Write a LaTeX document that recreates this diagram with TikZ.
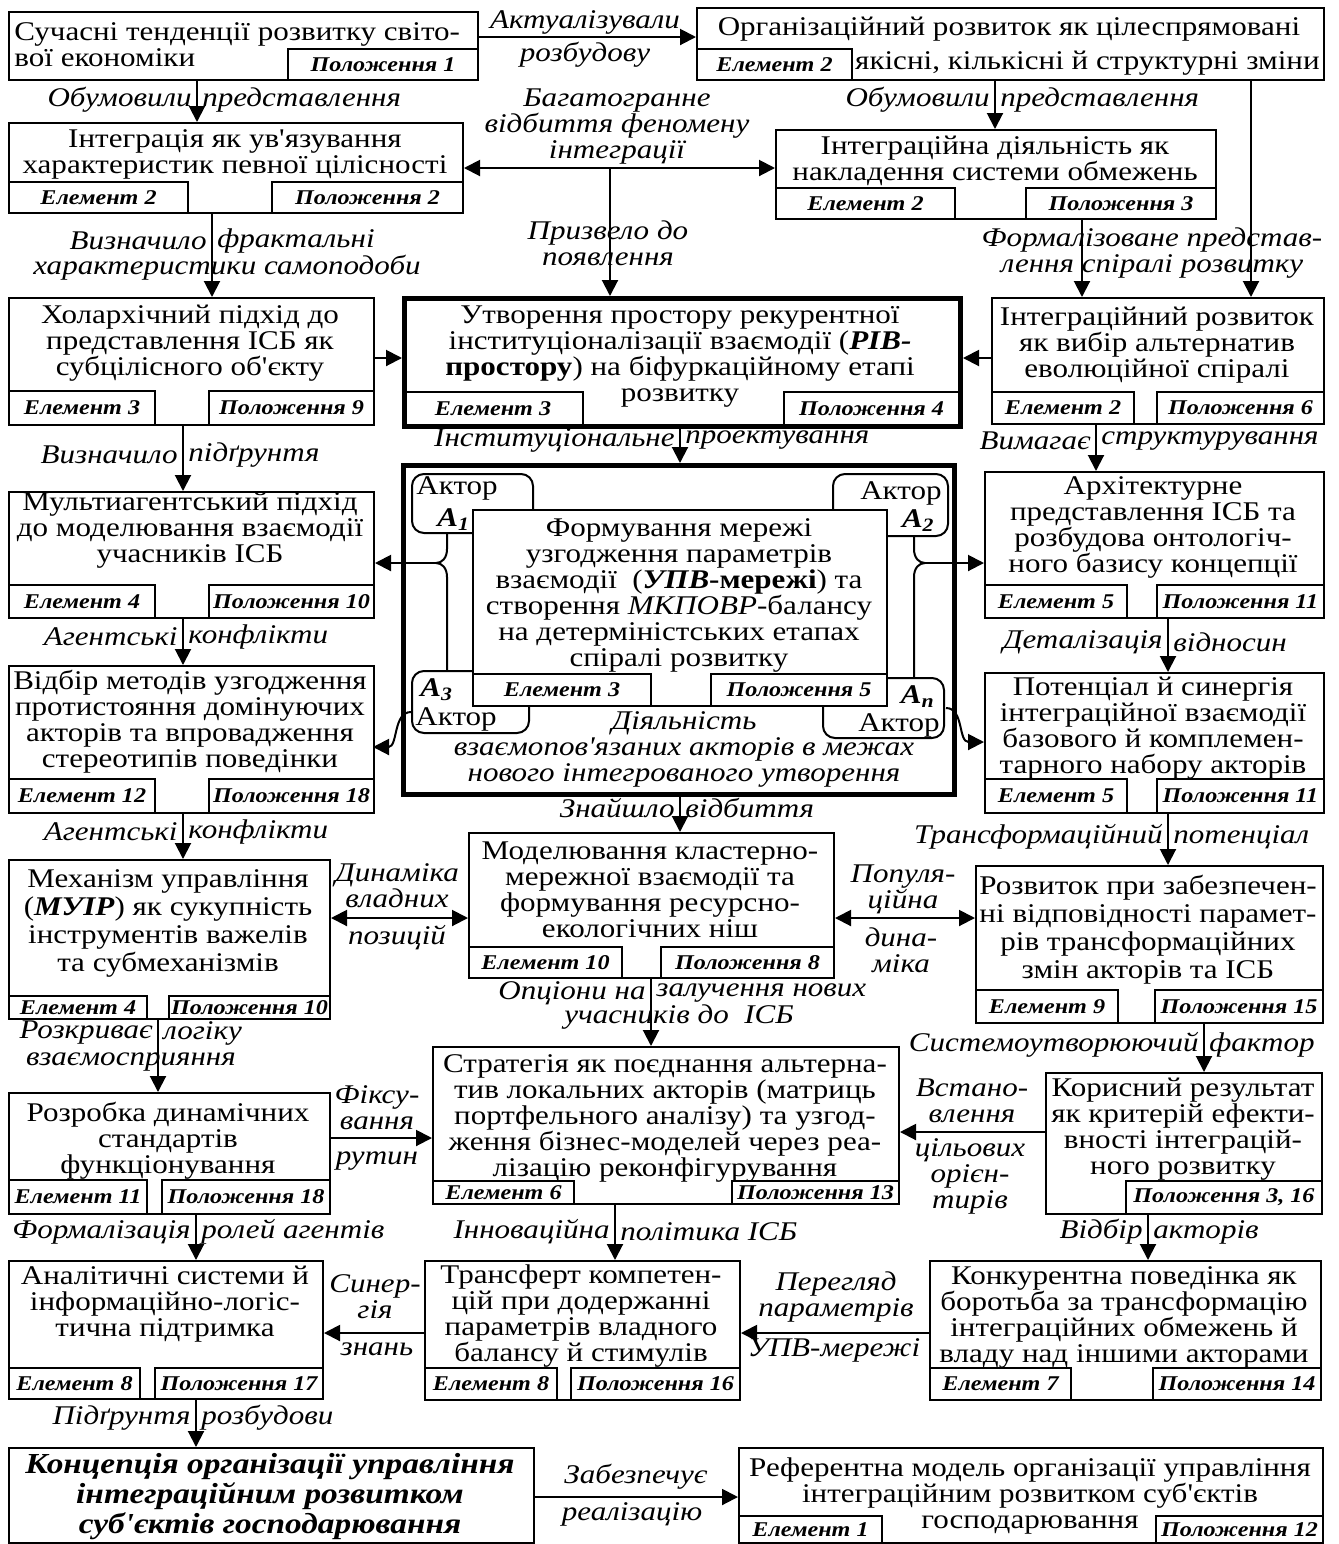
\documentclass[tikz,border=0pt]{standalone}
\usepackage{fontspec}
\setmainfont{Liberation Serif}[FakeStretch=1.15,Ligatures=TeXOff]
\usetikzlibrary{arrows.meta,calc}
\newcommand\mt{\fontsize{13.5}{13}\selectfont}
\newcommand\lt{\fontsize{10.5}{11}\selectfont\bfseries\itshape}
\newcommand\et{\fontsize{13.5}{13}\selectfont\itshape}
\newcommand\bx[6][box]{\pgfmathsetmacro\bw{(#5-#3)*0.5}\pgfmathsetmacro\bh{(#6-#4)*0.5}\node[#1,minimum width=\bw pt,minimum height=\bh pt] (#2) at (#3,#4) {};}
\newcommand\lb[6]{\pgfmathsetmacro\bw{(#4-#2)*0.5}\pgfmathsetmacro\bh{(#5-#3)*0.5}\node[lbl,minimum width=\bw pt,minimum height=\bh pt] (#1) at (#2,#3) {#6};}
\newcommand\spl[5]{\node[elab,anchor=east] (#1l) at ({#2-5},#3) {#4};\node[elab,anchor=west] (#1r) at ({#2+5},#3) {#5};}
\newcommand\bi[1]{\textbf{\textit{#1}}}
\begin{document}
\begin{tikzpicture}[x=0.5pt,y=-0.5pt,
 box/.style={draw,line width=1pt,fill=white,inner sep=0pt,anchor=north west},
 tbox/.style={box,line width=2.5pt},
 lbl/.style={draw,line width=1pt,inner sep=0pt,anchor=north west,font=\lt},
 txt/.style={inner sep=0pt,align=center,font=\mt},
 elab/.style={inner sep=0pt,align=center,font=\et},
 actor/.style={draw,line width=1pt,rounded corners=6pt,fill=white,inner sep=0pt,anchor=north west},
 ln/.style={line width=1pt},
 arr/.style={line width=1pt,-{Triangle[length=8pt,width=8pt]}},
 darr/.style={line width=1pt,{Triangle[length=8pt,width=8pt]}-{Triangle[length=8pt,width=8pt]}}]
\useasboundingbox (0,0) rectangle (1339,1544);
% ---------- row 1
\bx{b1}{8}{11}{477}{79}
\lb{b1p}{287}{48}{477}{79}{Положення 1}
\node[txt,align=left,anchor=west] (b1t) at (14,45) {Сучасні тенденції розвитку світо-\\вої економіки};
\bx{b2}{696}{7}{1323}{79}
\lb{b2e}{696}{48}{851}{79}{Елемент 2}
\node[txt] (b2t) at (1009,29) {Організаційний розвиток як цілеспрямовані};
\node[txt,anchor=east] (b2u) at (1320,63) {якісні, кількісні й структурні зміни};
% ---------- row 2
\bx{b3}{8}{122}{462}{212}
\lb{b3e}{8}{181}{187}{212}{Елемент 2}
\lb{b3p}{271}{181}{462}{212}{Положення 2}
\node[txt] (b3t) at (235,154) {Інтеграція як ув'язування\\характеристик певної цілісності};
\bx{b4}{775}{129}{1215}{218}
\lb{b4e}{775}{187}{954}{218}{Елемент 2}
\lb{b4p}{1025}{187}{1215}{218}{Положення 3}
\node[txt] (b4t) at (995,161) {Інтеграційна діяльність як\\накладення системи обмежень};
% ---------- row 3
\bx{b5}{8}{297}{373}{424}
\lb{b5e}{8}{390}{154}{424}{Елемент 3}
\lb{b5p}{208}{390}{373}{424}{Положення 9}
\node[txt] (b5t) at (190,343) {Холархічний підхід до\\представлення ІСБ як\\субцілісного об'єкту};
\bx[tbox]{b6}{402}{296}{958}{424}
\lb{b6e}{402}{391}{582}{424}{Елемент 3}
\lb{b6p}{783}{391}{958}{424}{Положення 4}
\node[txt] (b6t) at (680,357) {Утворення простору рекурентної\\інституціоналізації взаємодії (\bi{РІВ-}\\\textbf{простору}) на біфуркаційному етапі\\розвитку};
\bx{b7}{991}{297}{1323}{423}
\lb{b7e}{991}{391}{1133}{423}{Елемент 2}
\lb{b7p}{1156}{391}{1323}{423}{Положення 6}
\node[txt] (b7t) at (1157,345) {Інтеграційний розвиток\\як вибір альтернатив\\еволюційної спіралі};
% ---------- row 4
\bx{b8}{8}{491}{373}{617}
\lb{b8e}{8}{584}{154}{617}{Елемент 4}
\lb{b8p}{208}{584}{373}{617}{Положення 10}
\node[txt] (b8t) at (190,530) {Мультиагентський підхід\\до моделювання взаємодії\\учасників ІСБ};
\bx[tbox]{b10}{401}{463}{952}{792}
\bx[actor]{a1}{411}{473}{532}{532}
\bx[actor]{a2}{832}{473}{947}{535}
\bx[actor]{a3}{411}{670}{528}{732}
\bx[actor]{an}{822}{677}{943}{737}
\node[txt,align=left,anchor=north west] (a1t) at (416,476) {Актор\\[3pt]\hspace*{10.5pt}\bi{A\textsubscript{1}}};
\node[txt,align=right,anchor=north east] (a2t) at (942,481) {Актор\\[1pt]\bi{A\textsubscript{2}}\hspace*{3.5pt}};
\node[txt,anchor=west] (a3n) at (420,690) {\bi{A\textsubscript{3}}};
\node[txt,anchor=west] (a3t) at (415,719) {Актор};
\node[txt,align=right,anchor=north east] (ant) at (940,685) {\bi{A\textsubscript{n}}\hspace*{2.5pt}\\[1pt]Актор};
\coordinate (xbl) at (447,0);
\coordinate (xbr) at (914,0);
\coordinate (tl) at (436,563);
\coordinate (tr) at (925,563);
\draw[ln] (a1.south -| xbl) -- (447,549) .. controls (447,558) and (442,563) .. (tl) .. controls (442,563) and (447,568) .. (447,577) -- (a3.north -| xbl);
\draw[ln] (a2.south -| xbr) -- (914,549) .. controls (914,558) and (919,563) .. (tr) .. controls (919,563) and (914,568) .. (914,577) -- (an.north -| xbr);
\bx{b10i}{472}{509}{886}{705}
\lb{b10e}{472}{673}{650}{705}{Елемент 3}
\lb{b10p}{710}{673}{886}{705}{Положення 5}
\node[txt] (b10t) at (679,595) {Формування мережі\\узгодження параметрів\\взаємодії~~(\bi{УПВ}\textbf{-мережі}) та\\створення \textit{МКПОВР}-балансу\\на детерміністських етапах\\спіралі розвитку};
\node[elab] (b10a) at (684,749) {Діяльність\\взаємопов'язаних акторів в межах\\нового інтегрованого утворення};
\bx{b9}{984}{471}{1323}{617}
\lb{b9e}{984}{584}{1126}{617}{Елемент 5}
\lb{b9p}{1156}{584}{1323}{617}{Положення 11}
\node[txt] (b9t) at (1153,527) {Архітектурне\\представлення ІСБ та\\розбудова онтологіч-\\ного базису концепції};
\bx{b11}{8}{665}{373}{812}
\lb{b11e}{8}{778}{154}{812}{Елемент 12}
\lb{b11p}{208}{778}{373}{812}{Положення 18}
\node[txt] (b11t) at (190,722) {Відбір методів узгодження\\протистояння домінуючих\\акторів та впровадження\\стереотипів поведінки};
\bx{b13}{984}{672}{1323}{812}
\lb{b13e}{984}{778}{1126}{812}{Елемент 5}
\lb{b13p}{1156}{778}{1323}{812}{Положення 11}
\node[txt] (b13t) at (1153,728) {Потенціал й синергія\\інтеграційної взаємодії\\базового й комплемен-\\тарного набору акторів};
% ---------- row 5
\bx{b12}{8}{859}{329}{1018}
\lb{b12e}{8}{995}{146}{1018}{Елемент 4}
\lb{b12p}{168}{995}{329}{1018}{Положення 10}
\node[txt,font=\fontsize{13.5}{14}\selectfont] (b12t) at (168,923) {Механізм управління\\(\bi{МУІР}) як сукупність\\інструментів важелів\\та субмеханізмів};
\bx{b14}{468}{832}{833}{977}
\lb{b14e}{468}{946}{621}{977}{Елемент 10}
\lb{b14p}{660}{946}{833}{977}{Положення 8}
\node[txt] (b14t) at (650,890) {Моделювання кластерно-\\мережної взаємодії та\\формування ресурсно-\\екологічних ніш};
\bx{b15}{975}{865}{1322}{1022}
\lb{b15e}{975}{989}{1117}{1022}{Елемент 9}
\lb{b15p}{1154}{989}{1322}{1022}{Положення 15}
\node[txt,font=\fontsize{13.5}{14}\selectfont] (b15t) at (1148,930) {Розвиток при забезпечен-\\ні відповідності парамет-\\рів трансформаційних\\змін акторів та ІСБ};
% ---------- row 6
\bx{b16}{8}{1092}{329}{1213}
\lb{b16e}{8}{1179}{146}{1213}{Елемент 11}
\lb{b16p}{161}{1179}{329}{1213}{Положення 18}
\node[txt] (b16t) at (168,1141) {Розробка динамічних\\стандартів\\функціонування};
\bx{b17}{432}{1046}{898}{1203}
\lb{b17e}{432}{1180}{573}{1203}{Елемент 6}
\lb{b17p}{731}{1180}{898}{1203}{Положення 13}
\node[txt] (b17t) at (665,1118) {Стратегія як поєднання альтерна-\\тив локальних акторів (матриць\\портфельного аналізу) та узгод-\\ження бізнес-моделей через реа-\\лізацію реконфігурування};
\bx{b18}{1045}{1072}{1321}{1213}
\lb{b18p}{1125}{1180}{1321}{1213}{Положення 3, 16}
\node[txt] (b18t) at (1183,1129) {Корисний результат\\як критерій ефекти-\\вності інтеграцій-\\ного розвитку};
% ---------- row 7
\bx{b19}{8}{1260}{322}{1398}
\lb{b19e}{8}{1367}{139}{1398}{Елемент 8}
\lb{b19p}{154}{1367}{322}{1398}{Положення 17}
\node[txt] (b19t) at (165,1304) {Аналітичні системи й\\інформаційно-логіс-\\тична підтримка};
\bx{b20}{424}{1260}{739}{1399}
\lb{b20e}{424}{1367}{556}{1399}{Елемент 8}
\lb{b20p}{570}{1367}{739}{1399}{Положення 16}
\node[txt] (b20t) at (581,1316) {Трансферт компетен-\\цій при додержанні\\параметрів владного\\балансу й стимулів};
\bx{b21}{929}{1260}{1320}{1399}
\lb{b21e}{929}{1367}{1070}{1399}{Елемент 7}
\lb{b21p}{1152}{1367}{1320}{1399}{Положення 14}
\node[txt] (b21t) at (1124,1317) {Конкурентна поведінка як\\боротьба за трансформацію\\інтеграційних обмежень й\\владу над іншими акторами};
% ---------- row 8
\bx{b22}{8}{1447}{533}{1542}
\node[txt,font=\fontsize{14.5}{15}\selectfont\bfseries\itshape] (b22t) at (270,1497) {Концепція організації управління\\інтеграційним розвитком\\суб'єктів господарювання};
\bx{b23}{738}{1447}{1322}{1542}
\lb{b23e}{738}{1515}{881}{1542}{Елемент 1}
\lb{b23p}{1155}{1515}{1322}{1542}{Положення 12}
\node[txt] (b23t) at (1030,1496) {Референтна модель організації управління\\інтеграційним розвитком суб'єктів\\господарювання};
% ---------- helper coordinates
\coordinate (v1) at (197,0);
\coordinate (v2) at (995,0);
\coordinate (v3) at (1251,0);
\coordinate (j1) at (610,168);
\coordinate (v4) at (212,0);
\coordinate (v5) at (1082,0);
\coordinate (v6) at (680,0);
\coordinate (v7) at (183,0);
\coordinate (v8) at (1096,0);
\coordinate (v9) at (1168,0);
\coordinate (v10) at (651,0);
\coordinate (v11) at (158,0);
\coordinate (v12) at (1204,0);
\coordinate (v13) at (196,0);
\coordinate (v14) at (615,0);
\coordinate (v15) at (1148,0);
\coordinate (h1) at (0,37);
\coordinate (h2) at (0,168);
\coordinate (h3) at (0,358);
\coordinate (h5) at (0,918);
\coordinate (h6) at (0,1138);
\coordinate (h6b) at (0,1132);
\coordinate (h7) at (0,1333);
\coordinate (h8) at (0,1497);
\coordinate (s3a) at (411,712);
\coordinate (s3b) at (373,747);
\coordinate (sna) at (946,708);
\coordinate (snb) at (984,742);
% ---------- connectors
\draw[arr] (b1.east |- h1) -- (b2.west |- h1);
\draw[arr] (b1.south -| v1) -- (b3.north -| v1);
\draw[arr] (b2.south -| v2) -- (b4.north -| v2);
\draw[arr] (b2.south -| v3) -- (b7.north -| v3);
\draw[darr] (b3.east |- h2) -- (b4.west |- h2);
\draw[arr] (j1) -- (j1 |- b6.north);
\draw[arr] (b3.south -| v4) -- (b5.north -| v4);
\draw[arr] (b4.south -| v5) -- (b7.north -| v5);
\draw[arr] (b5.east |- h3) -- (b6.west |- h3);
\draw[arr] (b7.west |- h3) -- (b6.east |- h3);
\draw[arr] (b6.south -| v6) -- (b10.north -| v6);
\draw[arr] (b5.south -| v7) -- (b8.north -| v7);
\draw[arr] (b7.south -| v8) -- (b9.north -| v8);
\draw[arr] (tl) -- (tl -| b8.east);
\draw[arr] (tr) -- (tr -| b9.west);
\draw[arr] (s3a) .. controls (393,712) and (398,747) .. (s3b);
\draw[arr] (sna) .. controls (964,708) and (958,742) .. (snb);
\draw[arr] (b8.south -| v7) -- (b11.north -| v7);
\draw[arr] (b9.south -| v9) -- (b13.north -| v9);
\draw[arr] (b11.south -| v7) -- (b12.north -| v7);
\draw[arr] (b10.south -| v6) -- (b14.north -| v6);
\draw[arr] (b13.south -| v9) -- (b15.north -| v9);
\draw[darr] (b12.east |- h5) -- (b14.west |- h5);
\draw[darr] (b14.east |- h5) -- (b15.west |- h5);
\draw[arr] (b14.south -| v10) -- (b17.north -| v10);
\draw[arr] (b12.south -| v11) -- (b16.north -| v11);
\draw[arr] (b15.south -| v12) -- (b18.north -| v12);
\draw[arr] (b16.east |- h6) -- (b17.west |- h6);
\draw[arr] (b18.west |- h6b) -- (b17.east |- h6b);
\draw[arr] (b16.south -| v13) -- (b19.north -| v13);
\draw[arr] (b17.south -| v14) -- (b20.north -| v14);
\draw[arr] (b18.south -| v15) -- (b21.north -| v15);
\draw[arr] (b20.west |- h7) -- (b19.east |- h7);
\draw[arr] (b21.west |- h7) -- (b20.east |- h7);
\draw[arr] (b19.south -| v13) -- (b22.north -| v13);
\draw[arr] (b22.east |- h8) -- (b23.west |- h8);
% ---------- connector labels
\node[elab] (l1a) at (585,22) {Актуалізували};
\node[elab] (l1b) at (585,55) {розбудову};
\spl{l2}{197}{100}{Обумовили}{представлення}
\spl{l3}{995}{100}{Обумовили}{представлення}
\node[elab] (l4) at (617,127) {Багатогранне\\відбиття феномену\\інтеграції};
\node[elab] (l5) at (608,243) {Призвело до\\появлення};
\spl{l6}{212}{241}{Визначило}{фрактальні}
\node[elab] (l6b) at (227,268) {характеристики самоподоби};
\node[elab] (l7) at (1152,253) {Формалізоване представ-\\лення спіралі розвитку};
\spl{l8}{680}{440}{Інституціональне}{проектування}
\spl{l9}{183}{455}{Визначило}{підґрунтя}
\spl{l10}{1096}{441}{Вимагає}{структурування}
\spl{l11}{183}{637}{Агентські}{конфлікти}
\spl{l12}{1168}{642}{Деталізація}{відносин}
\spl{l13}{183}{832}{Агентські}{конфлікти}
\spl{l14}{680}{808}{Знайшло}{відбиття}
\spl{l15}{1168}{837}{Трансформаційний}{потенціал}
\node[elab] (l16a) at (397,886) {Динаміка\\владних};
\node[elab] (l16b) at (397,938) {позицій};
\node[elab] (l17a) at (903,889) {Популя-\\ційна};
\node[elab] (l17b) at (901,950) {дина-\\міка};
\spl{l18}{651}{993}{Опціони на}{залучення нових}
\node[elab] (l18b) at (679,1017) {учасників до~~ІСБ};
\spl{l19}{158}{1033}{Розкриває}{логіку}
\node[elab] (l19b) at (131,1062) {взаємосприяння};
\spl{l20}{1204}{1045}{Системоутворюючий}{фактор}
\node[elab] (l21a) at (377,1108) {Фіксу-\\вання};
\node[elab] (l21b) at (377,1161) {рутин};
\node[elab] (l22a) at (972,1101) {Встано-\\влення};
\node[elab] (l22b) at (970,1176) {цільових\\орієн-\\тирів};
\spl{l23}{196}{1232}{Формалізація}{ролей агентів}
\spl{l24}{615}{1232}{Інноваційна}{політика ІСБ}
\spl{l25}{1148}{1232}{Відбір}{акторів}
\node[elab] (l26a) at (375,1297) {Синер-\\гія};
\node[elab] (l26b) at (377,1349) {знань};
\node[elab] (l27a) at (836,1297) {Перегляд\\параметрів};
\node[elab] (l27b) at (834,1350) {УПВ-мережі};
\spl{l28}{196}{1418}{Підґрунтя}{розбудови}
\node[elab] (l29a) at (636,1477) {Забезпечує};
\node[elab] (l29b) at (632,1514) {реалізацію};
\end{tikzpicture}
\end{document}
